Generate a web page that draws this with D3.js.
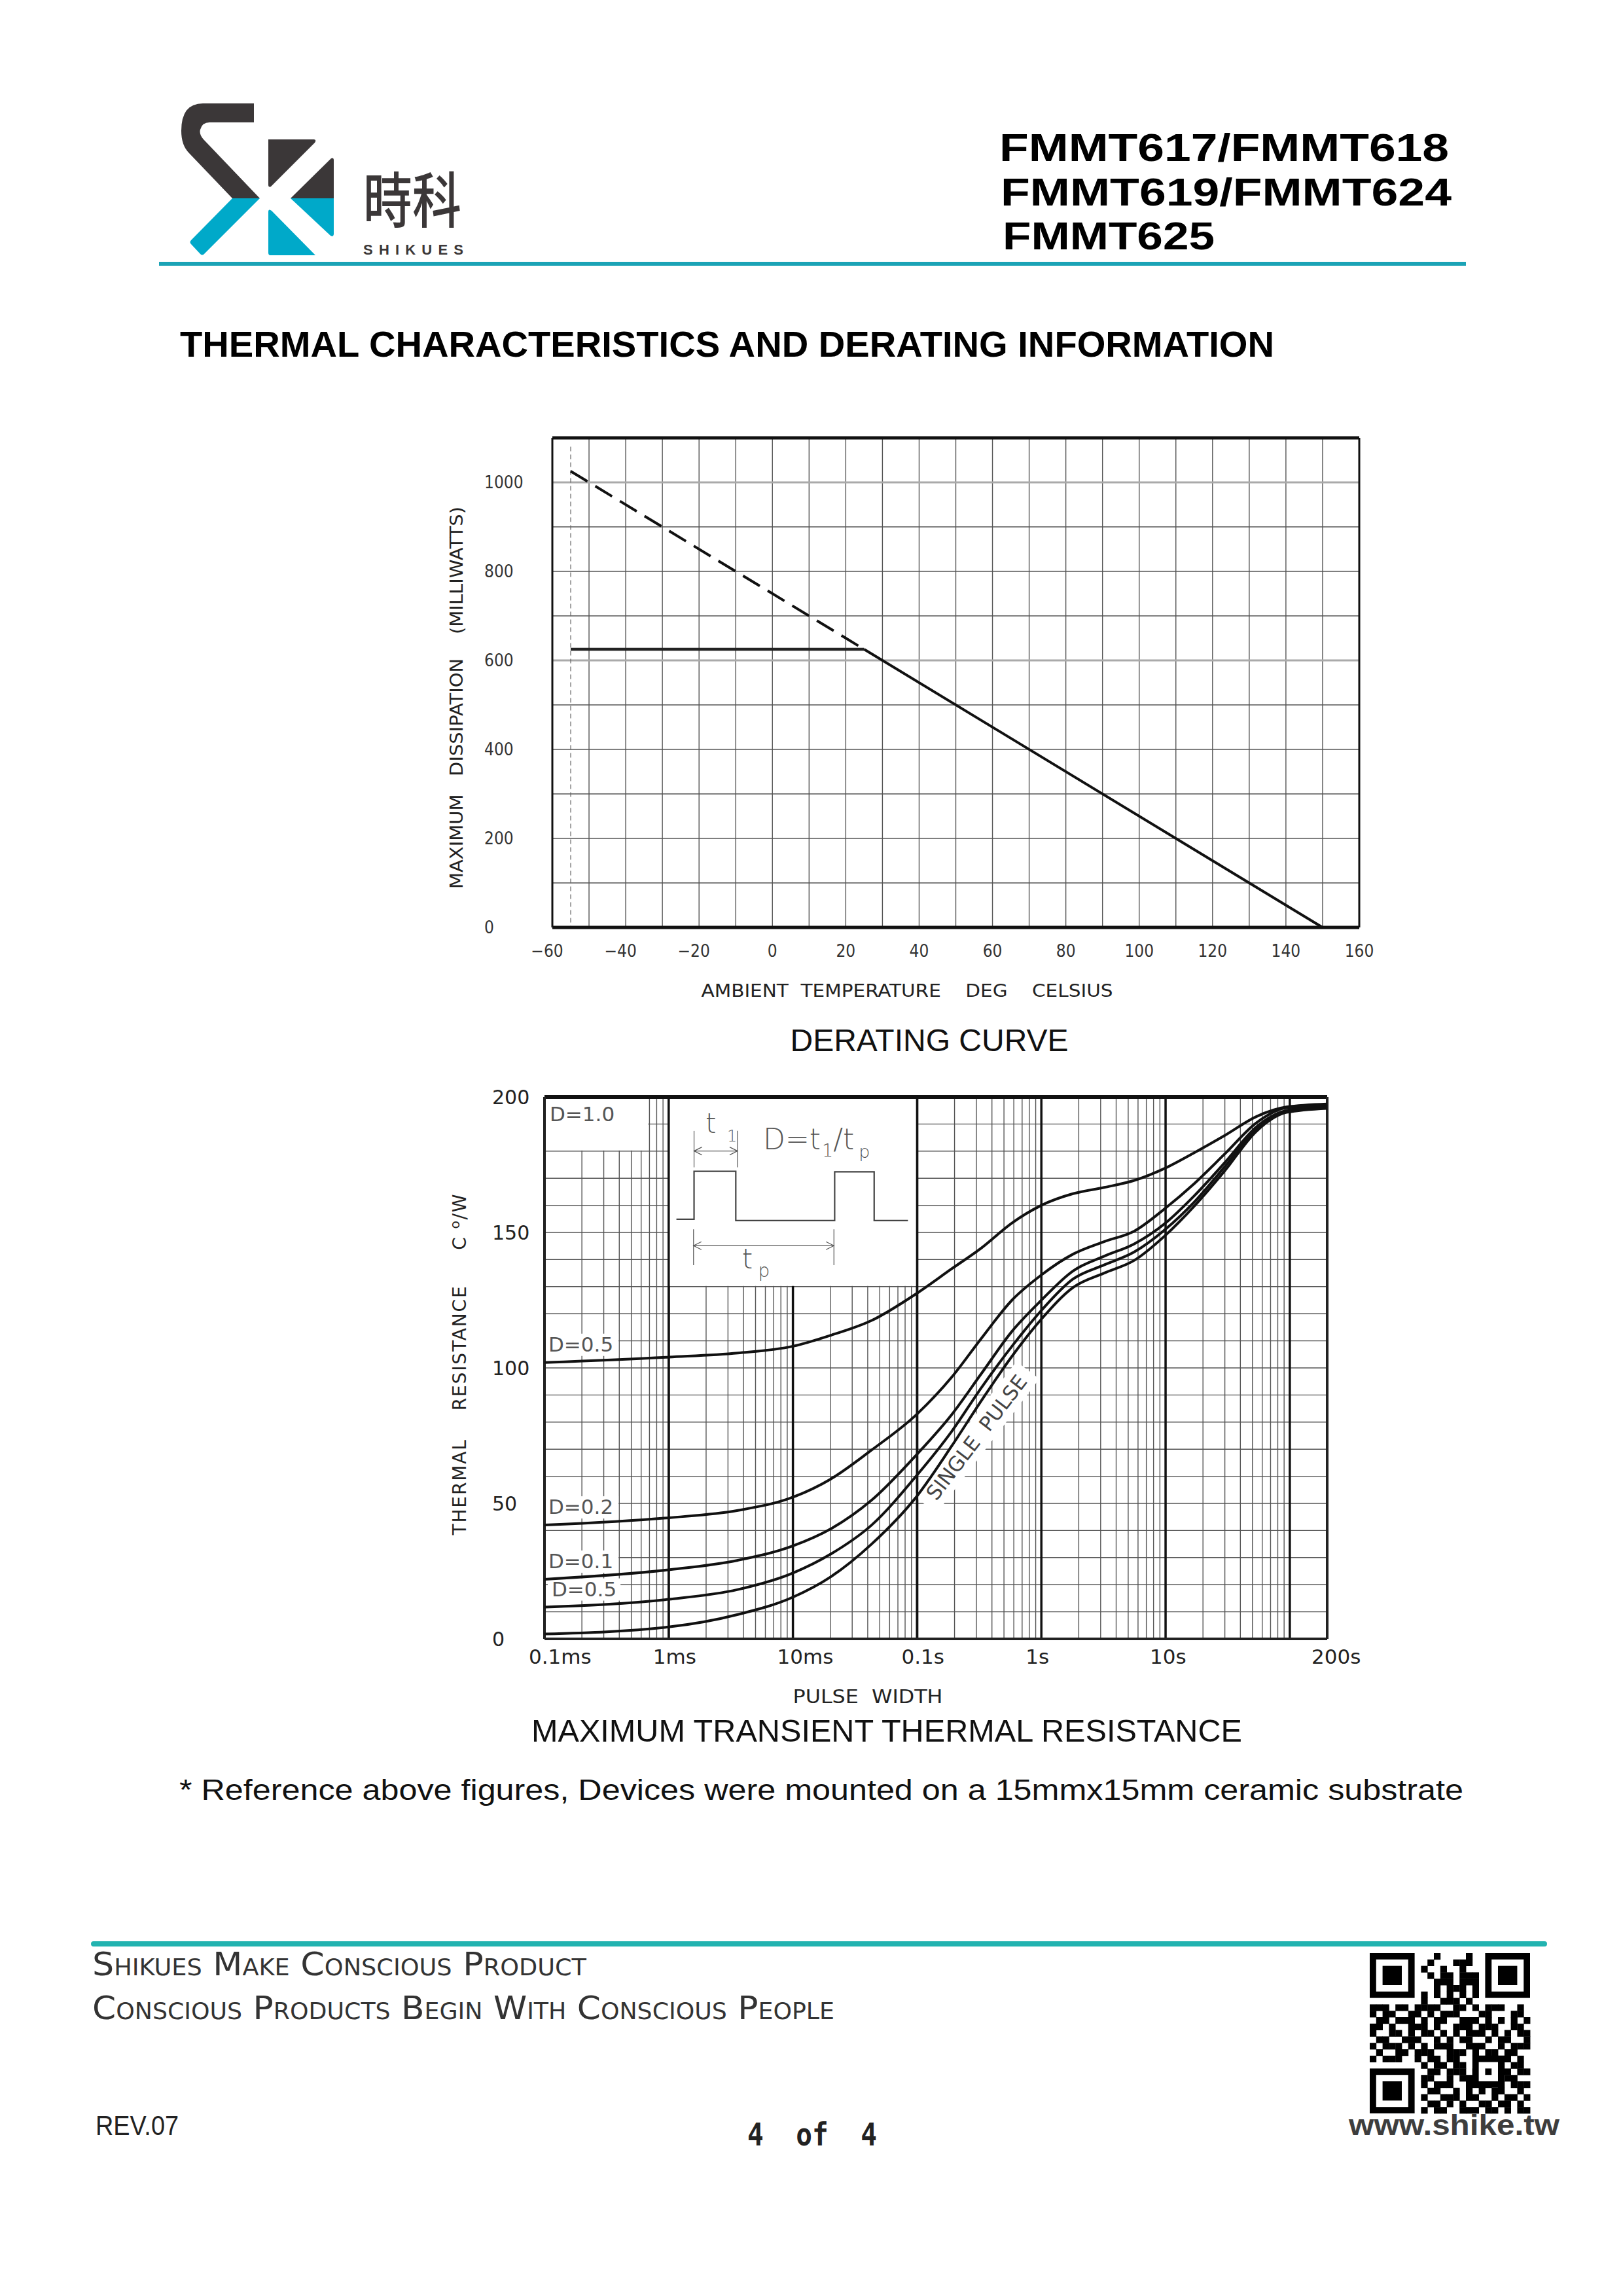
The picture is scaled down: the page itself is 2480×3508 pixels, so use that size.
<!DOCTYPE html>
<html>
<head>
<meta charset="utf-8">
<script src="https://cdn.jsdelivr.net/npm/d3@7"></script>
<style>
	body { margin: 0; background: #fff; }
	svg { display: block; }
	text { white-space: pre; }
</style>
</head>
<body>
<svg id="page"></svg>
<script>
// ---- Derating curve data ----
const deratingTicksX = [-60, -40, -20, 0, 20, 40, 60, 80, 100, 120, 140, 160];
const deratingTicksY = [0, 200, 400, 600, 800, 1000];
const deratingGridX = d3.range(-50, 160, 10);
const deratingGridY = d3.range(100, 1100, 100);
const deratingLightLines = [600, 1000];
const deratingMinTemp = -55;
const deratingFlat = [{ t: -55, p: 625 }, { t: 25, p: 625 }];
const deratingDashed = [{ t: -55, p: 1025 }, { t: 25, p: 625 }];
const deratingSolid = [{ t: 25, p: 625 }, { t: 150, p: 0 }];

// ---- Transient thermal resistance data ----
const pulseTimes = [1e-4, 1e-3, 3.6e-3, 1e-2, 0.02, 0.043, 0.1, 0.19, 0.33, 0.58, 1, 1.8, 3.2, 5.6, 10, 17, 30, 54, 94, 200];
const pulseD05 = [102, 104, 105.5, 108, 112, 117.5, 127.6, 136.6, 144.3, 153.5, 160, 164.3, 166.6, 169.2, 173.8, 179.4, 185.8, 192.8, 196.3, 197.4];
const pulseD02 = [42, 44.7, 47.4, 52.3, 58.9, 69.7, 83, 96.6, 111, 125, 134.3, 142, 146.6, 150.5, 159, 168, 179, 190.5, 196, 197];
const pulseD01 = [22, 25.5, 29, 34.3, 40.5, 51.2, 68.2, 82.8, 98, 113.5, 125, 135.8, 141.2, 145.8, 153.5, 163.5, 175.8, 189, 195, 196.6];
const pulseD005 = [11.7, 14.6, 18.2, 24.3, 31.2, 42, 60.5, 76.6, 92.8, 108, 121.2, 132.8, 138, 142.8, 151.2, 161.2, 174.3, 188.2, 194.8, 196.3];
const pulseSingle = [1.8, 4.4, 9, 15.4, 22.8, 35, 52.8, 71.2, 88, 104.3, 118, 129.7, 135, 139.7, 149, 159.7, 172.8, 187.4, 194.3, 195.8];
const pulseSeries = [
	{ label: 'D=0.5', values: pulseD05 },
	{ label: 'D=0.2', values: pulseD02 },
	{ label: 'D=0.1', values: pulseD01 },
	{ label: 'D=0.5', values: pulseD005 },
	{ label: null, values: pulseSingle }
];
const pulseTicksY = [0, 50, 100, 150, 200];
const pulseTicksX = [
	{ t: 1e-4, label: '0.1ms' }, { t: 1e-3, label: '1ms' }, { t: 1e-2, label: '10ms' },
	{ t: 0.1, label: '0.1s' }, { t: 1, label: '1s' }, { t: 10, label: '10s' }, { t: 200, label: '200s' }
];
const pulseDecades = [1e-3, 1e-2, 0.1, 1, 10, 100];
const pulseGridY = d3.range(10, 200, 10);

// inset pulse sketch, in fractions of the inset box
const insetWave = [[0.031, 0.645], [0.102, 0.645], [0.102, 0.392], [0.27, 0.392], [0.27, 0.652], [0.668, 0.652],
	[0.668, 0.395], [0.827, 0.395], [0.827, 0.652], [0.963, 0.652]];

// QR modules (finders and alignment are drawn on top)
const qrRows = [
	'0000000000100001000000000',
	'0000000001000111000000000',
	'0000000010010010000000000',
	'0000000001011011100000000',
	'0000000000111011100000000',
	'0000000000101110100000000',
	'0000000010101010100000000',
	'0000000010011101000000000',
	'1110110111100110101110010',
	'1011001101011100011000110',
	'0110111010110011101010101',
	'1101001110100111011100110',
	'1001101011010101110101011',
	'0110011100101011001011001',
	'1011101010111001110010111',
	'0100110111001110101101100',
	'1011100101101100011111010',
	'0000000010110110001010110',
	'0000000001101110110011011',
	'0000000011001011001101100',
	'0000000010111001111010111',
	'0000000001100101010110010',
	'0000000010011101100101101',
	'0000000001101010011011010',
	'0000000010110011101101011'
];

const W = 2480, H = 3508;
const dark = '#3b3738', cyan = '#00a9c9', ink = '#111';
const cad = '"DejaVu Sans", sans-serif';
const cadNarrow = '"DejaVu Sans Condensed", "DejaVu Sans", sans-serif';

const svg = d3.select('#page')
	.attr('width', W).attr('height', H)
	.attr('viewBox', '0 0 ' + W + ' ' + H);
svg.append('rect').attr('width', W).attr('height', H).attr('fill', '#fff');

// ---------- Header ----------
const header = svg.append('g');
header.append('path')
	.attr('d', 'M388,158 L310,158 Q277,158 277,200 Q277,222 289,234 L355,303 L397,303 L311,213 Q304,205 306,198 Q309,187 320,187 L388,187 Z')
	.attr('fill', dark);
header.append('path').attr('d', 'M355,303 L397,303 L312,388 Q309,391 306,388 L292,373 Q289,370 292,367 Z').attr('fill', cyan);
header.append('path').attr('d', 'M410,213 L480,213 Q484,214 481,218 L414,285 Q410,287 410,282 Z').attr('fill', dark);
header.append('path').attr('d', 'M510,245 L510,303 L444,303 L506,242 Q510,240 510,245 Z').attr('fill', dark);
header.append('path').attr('d', 'M444,303 L510,303 L510,358 Q509,363 505,360 Z').attr('fill', cyan);
header.append('path').attr('d', 'M410,324 Q410,318 415,322 L482,390 L413,390 Q410,390 410,386 Z').attr('fill', cyan);

header.append('text').attr('x', 555).attr('y', 340)
	.attr('font-family', '"Noto Sans CJK TC", "Noto Sans CJK SC", sans-serif')
	.attr('font-size', 92).attr('font-weight', 500).attr('fill', dark)
	.attr('textLength', 150).attr('lengthAdjust', 'spacingAndGlyphs')
	.text('時科');
header.append('text').attr('x', 555).attr('y', 389)
	.attr('font-family', '"Liberation Sans", sans-serif').attr('font-weight', 700)
	.attr('font-size', 22).attr('fill', dark)
	.attr('textLength', 153).attr('lengthAdjust', 'spacing')
	.text('SHIKUES');

const partLines = [
	{ text: 'FMMT617/FMMT618', x: 1527, y: 246, w: 687 },
	{ text: 'FMMT619/FMMT624', x: 1529, y: 314, w: 689 },
	{ text: 'FMMT625', x: 1532, y: 381, w: 324 }
];
header.selectAll('text.part').data(partLines).join('text')
	.attr('class', 'part')
	.attr('x', d => d.x).attr('y', d => d.y)
	.attr('font-family', '"Liberation Sans", Arial, sans-serif').attr('font-weight', 700)
	.attr('font-size', 60).attr('fill', '#000')
	.attr('textLength', d => d.w).attr('lengthAdjust', 'spacingAndGlyphs')
	.text(d => d.text);

header.append('rect').attr('x', 243).attr('y', 400).attr('width', 1997).attr('height', 6).attr('fill', '#1ba3b6');

svg.append('text').attr('x', 275).attr('y', 545)
	.attr('font-family', '"Liberation Sans", Arial, sans-serif').attr('font-weight', 700)
	.attr('font-size', 55).attr('fill', '#000')
	.attr('textLength', 1672).attr('lengthAdjust', 'spacingAndGlyphs')
	.text('THERMAL CHARACTERISTICS AND DERATING INFORMATION');

// ---------- Derating curve ----------
const dx = d3.scaleLinear().domain([-60, 160]).range([844, 2077]);
const dy = d3.scaleLinear().domain([0, 1100]).range([1417, 669]);
const derating = svg.append('g');

derating.selectAll('line.gx').data(deratingGridX).join('line')
	.attr('x1', d => dx(d)).attr('x2', d => dx(d))
	.attr('y1', dy(1100)).attr('y2', dy(0))
	.attr('stroke', '#555').attr('stroke-width', 1.4);
derating.selectAll('line.gy').data(deratingGridY).join('line')
	.attr('x1', dx(-60)).attr('x2', dx(160))
	.attr('y1', d => dy(d)).attr('y2', d => dy(d))
	.attr('stroke', d => deratingLightLines.includes(d) ? '#aaa' : '#555')
	.attr('stroke-width', d => deratingLightLines.includes(d) ? 3 : 1.4);
derating.append('line')
	.attr('x1', dx(deratingMinTemp)).attr('x2', dx(deratingMinTemp))
	.attr('y1', dy(1080)).attr('y2', dy(0))
	.attr('stroke', '#666').attr('stroke-width', 1.2).attr('stroke-dasharray', '7,5');

// frame
derating.append('line').attr('x1', dx(-60)).attr('x2', dx(160)).attr('y1', dy(1100)).attr('y2', dy(1100)).attr('stroke', ink).attr('stroke-width', 5);
derating.append('line').attr('x1', dx(-60)).attr('x2', dx(160)).attr('y1', dy(0)).attr('y2', dy(0)).attr('stroke', ink).attr('stroke-width', 5);
derating.append('line').attr('x1', dx(-60)).attr('x2', dx(-60)).attr('y1', dy(1100)).attr('y2', dy(0)).attr('stroke', ink).attr('stroke-width', 3);
derating.append('line').attr('x1', dx(160)).attr('x2', dx(160)).attr('y1', dy(1100)).attr('y2', dy(0)).attr('stroke', ink).attr('stroke-width', 3);

const dLine = d3.line().x(d => dx(d.t)).y(d => dy(d.p));
derating.append('path').attr('d', dLine(deratingFlat)).attr('fill', 'none').attr('stroke', '#222').attr('stroke-width', 4.5);
derating.append('path').attr('d', dLine(deratingDashed)).attr('fill', 'none').attr('stroke', ink).attr('stroke-width', 4).attr('stroke-dasharray', '30,14');
derating.append('path').attr('d', dLine(deratingSolid)).attr('fill', 'none').attr('stroke', ink).attr('stroke-width', 4);

derating.selectAll('text.ty').data(deratingTicksY).join('text')
	.attr('x', 740).attr('y', d => dy(d)).attr('dy', '0.36em')
	.attr('font-family', cadNarrow).attr('font-size', 26).attr('fill', '#333')
	.text(d => d);
derating.selectAll('text.tx').data(deratingTicksX).join('text')
	.attr('x', d => dx(d) - (d < 0 ? 8 : 0)).attr('y', 1462).attr('text-anchor', 'middle')
	.attr('font-family', cadNarrow).attr('font-size', 26).attr('fill', '#333')
	.text(d => d < 0 ? '\u2212' + Math.abs(d) : d);
derating.append('text').attr('x', 1386).attr('y', 1523).attr('text-anchor', 'middle')
	.attr('font-family', cadNarrow).attr('font-size', 27).attr('fill', '#222')
	.attr('textLength', 629).attr('lengthAdjust', 'spacingAndGlyphs')
	.text('AMBIENT  TEMPERATURE    DEG    CELSIUS');
derating.append('text').attr('transform', 'translate(707,1066) rotate(-90)').attr('text-anchor', 'middle')
	.attr('font-family', cad).attr('font-size', 26).attr('fill', '#222')
	.attr('textLength', 584).attr('lengthAdjust', 'spacingAndGlyphs')
	.text('MAXIMUM   DISSIPATION    (MILLIWATTS)');

svg.append('text').attr('x', 1420).attr('y', 1606).attr('text-anchor', 'middle')
	.attr('font-family', '"Liberation Sans", Arial, sans-serif').attr('font-size', 48).attr('fill', '#111')
	.text('DERATING CURVE');

// ---------- Maximum transient thermal resistance ----------
const tx = d3.scaleLog().domain([1e-4, 200]).range([832, 2028]);
const ty = d3.scaleLinear().domain([0, 200]).range([2504, 1676]);
const transient = svg.append('g');
const gridG = transient.append('g');
const maskG = transient.append('g');
const curveG = transient.append('g');
const labelG = transient.append('g');

const minorTimes = [];
for (const decade of [1e-4, 1e-3, 1e-2, 0.1, 1, 10]) {
	for (let k = 2; k <= 9; k++) minorTimes.push(k * decade);
}
gridG.selectAll('line.mx').data(minorTimes).join('line')
	.attr('x1', d => tx(d)).attr('x2', d => tx(d))
	.attr('y1', ty(200)).attr('y2', ty(0))
	.attr('stroke', '#555').attr('stroke-width', 1.4);
gridG.selectAll('line.my').data(pulseGridY).join('line')
	.attr('x1', tx(1e-4)).attr('x2', tx(200))
	.attr('y1', d => ty(d)).attr('y2', d => ty(d))
	.attr('stroke', '#555').attr('stroke-width', 1.4);

// white boxes: D=1.0 corner and the pulse inset
maskG.append('rect')
	.attr('x', tx(1e-4) + 2).attr('y', ty(200) + 2)
	.attr('width', tx(7e-4) - tx(1e-4) - 4).attr('height', ty(180) - ty(200) - 3)
	.attr('fill', '#fff');
const inset = { x0: tx(1e-3), x1: tx(0.1), y0: ty(200), y1: ty(130) };
maskG.append('rect')
	.attr('x', inset.x0).attr('y', inset.y0 + 2)
	.attr('width', inset.x1 - inset.x0).attr('height', inset.y1 - inset.y0 - 3)
	.attr('fill', '#fff');

gridG.selectAll('line.dx').data(pulseDecades).join('line')
	.attr('x1', d => tx(d)).attr('x2', d => tx(d))
	.attr('y1', ty(200)).attr('y2', ty(0))
	.attr('stroke', ink).attr('stroke-width', 3.5);
// decade lines that frame the inset stay on top of its white box
curveG.append('line').attr('x1', tx(1e-3)).attr('x2', tx(1e-3)).attr('y1', ty(200)).attr('y2', ty(0)).attr('stroke', ink).attr('stroke-width', 3.5);
curveG.append('line').attr('x1', tx(0.1)).attr('x2', tx(0.1)).attr('y1', ty(200)).attr('y2', ty(0)).attr('stroke', ink).attr('stroke-width', 3.5);

// frame
curveG.append('line').attr('x1', tx(1e-4)).attr('x2', tx(200)).attr('y1', ty(200)).attr('y2', ty(200)).attr('stroke', ink).attr('stroke-width', 6);
curveG.append('line').attr('x1', tx(1e-4)).attr('x2', tx(200)).attr('y1', ty(0)).attr('y2', ty(0)).attr('stroke', '#222').attr('stroke-width', 4);
curveG.append('line').attr('x1', tx(1e-4)).attr('x2', tx(1e-4)).attr('y1', ty(200)).attr('y2', ty(0)).attr('stroke', '#222').attr('stroke-width', 4);
curveG.append('line').attr('x1', tx(200)).attr('x2', tx(200)).attr('y1', ty(200)).attr('y2', ty(0)).attr('stroke', '#222').attr('stroke-width', 4);

const pLine = d3.line().x((d, i) => tx(pulseTimes[i])).y(d => ty(d)).curve(d3.curveMonotoneX);
curveG.selectAll('path.curve').data(pulseSeries).join('path')
	.attr('d', d => pLine(d.values))
	.attr('fill', 'none').attr('stroke', ink).attr('stroke-width', 4);

// curve labels with white backing
const labelFont = { family: cad, size: 31, fill: '#555' };
const addLabel = function(txt, x, y) {
	const t = labelG.append('text').attr('x', x).attr('y', y)
		.attr('font-family', labelFont.family).attr('font-size', labelFont.size).attr('fill', labelFont.fill)
		.text(txt);
	const b = t.node().getBBox();
	maskG.append('rect').attr('x', Math.max(b.x - 6, tx(1e-4) + 2)).attr('y', b.y + 2)
		.attr('width', b.width + 12).attr('height', b.height - 2).attr('fill', '#fff');
};
addLabel('D=1.0', tx(1e-4) + 8, ty(200) + 37);
pulseSeries.filter(d => d.label).forEach((d, i) => addLabel(d.label, tx(1e-4) + (i === 3 ? 11 : 6), ty(d.values[0]) - 17));

// single pulse label along the curves
const spGroupMask = maskG.append('g').attr('transform', 'translate(1492,2196) rotate(-52.6)');
const spGroup = labelG.append('g').attr('transform', 'translate(1492,2196) rotate(-52.6)');
const spText = spGroup.append('text').attr('text-anchor', 'middle').attr('dy', '0.36em')
	.attr('font-family', cad).attr('font-size', 31).attr('fill', '#444')
	.text('SINGLE  PULSE');
const spBox = spText.node().getBBox();
spGroupMask.append('rect').attr('x', spBox.x - 14).attr('y', spBox.y - 4)
	.attr('width', spBox.width + 28).attr('height', spBox.height + 8).attr('fill', '#fff');

// inset drawing
const ix = f => inset.x0 + f * (inset.x1 - inset.x0);
const iy = f => inset.y0 + f * (inset.y1 - inset.y0);
const gray = '#555';
labelG.append('path')
	.attr('d', d3.line().x(d => ix(d[0])).y(d => iy(d[1]))(insetWave))
	.attr('fill', 'none').attr('stroke', '#444').attr('stroke-width', 2.2);
const dimension = function(fa, fb, fTop, fBot, fArrow) {
	for (const f of [fa, fb]) {
		labelG.append('line').attr('x1', ix(f)).attr('x2', ix(f)).attr('y1', iy(fTop)).attr('y2', iy(fBot))
			.attr('stroke', gray).attr('stroke-width', 1.2);
	}
	const y = iy(fArrow), xa = ix(fa), xb = ix(fb);
	labelG.append('line').attr('x1', xa).attr('x2', xb).attr('y1', y).attr('y2', y).attr('stroke', gray).attr('stroke-width', 1.2);
	labelG.append('path').attr('d', 'M' + (xa + 12) + ',' + (y - 6) + ' L' + xa + ',' + y + ' L' + (xa + 12) + ',' + (y + 6))
		.attr('fill', 'none').attr('stroke', gray).attr('stroke-width', 1.2);
	labelG.append('path').attr('d', 'M' + (xb - 12) + ',' + (y - 6) + ' L' + xb + ',' + y + ' L' + (xb - 12) + ',' + (y + 6))
		.attr('fill', 'none').attr('stroke', gray).attr('stroke-width', 1.2);
};
dimension(0.102, 0.277, 0.179, 0.371, 0.285);
dimension(0.1, 0.665, 0.698, 0.887, 0.784);

const insetText = function(x, y, size) {
	return labelG.append('text').attr('x', x).attr('y', y)
		.attr('font-family', cad).attr('font-weight', 300).attr('font-size', size).attr('fill', '#555');
};
insetText(ix(0.148), iy(0.19), 42).text('t');
insetText(ix(0.235), iy(0.235), 24).text('1');
const dEq = insetText(ix(0.38), iy(0.275), 44);
dEq.append('tspan').text('D=t');
dEq.append('tspan').attr('font-size', 27).attr('dy', 11).attr('dx', 2).text('1');
dEq.append('tspan').attr('dy', -11).text('/t');
dEq.append('tspan').attr('font-size', 27).attr('dy', 13).attr('dx', 7).text('p');
insetText(ix(0.295), iy(0.905), 42).text('t');
insetText(ix(0.36), iy(0.95), 28).text('p');

// tick labels and titles
labelG.selectAll('text.ty').data(pulseTicksY).join('text')
	.attr('x', 752).attr('y', d => ty(d)).attr('dy', '0.36em')
	.attr('font-family', cad).attr('font-size', 30).attr('fill', '#222')
	.text(d => d);
labelG.selectAll('text.tx').data(pulseTicksX).join('text')
	.attr('x', d => tx(d.t) - 24).attr('y', 2542)
	.attr('font-family', cad).attr('font-size', 31).attr('fill', '#222')
	.text(d => d.label);
labelG.append('text').attr('x', 1326).attr('y', 2602).attr('text-anchor', 'middle')
	.attr('font-family', cad).attr('font-size', 28).attr('fill', '#222')
	.attr('textLength', 229).attr('lengthAdjust', 'spacingAndGlyphs')
	.text('PULSE  WIDTH');
const yTitle = labelG.append('text').attr('transform', 'translate(712,2085) rotate(-90)').attr('text-anchor', 'middle')
	.attr('font-family', cad).attr('font-size', 28).attr('fill', '#222')
	.attr('textLength', 521).attr('lengthAdjust', 'spacing');
yTitle.append('tspan').text('THERMAL    RESISTANCE     C ');
yTitle.append('tspan').attr('font-size', 20).attr('dy', -10).text('o');
yTitle.append('tspan').attr('dy', 10).text('/W');

svg.append('text').attr('x', 1355).attr('y', 2661).attr('text-anchor', 'middle')
	.attr('font-family', '"Liberation Sans", Arial, sans-serif').attr('font-size', 48).attr('fill', '#111')
	.attr('textLength', 1086).attr('lengthAdjust', 'spacingAndGlyphs')
	.text('MAXIMUM TRANSIENT THERMAL RESISTANCE');
svg.append('text').attr('x', 274).attr('y', 2750)
	.attr('font-family', '"Liberation Sans", Arial, sans-serif').attr('font-size', 45).attr('fill', '#111')
	.attr('textLength', 1962).attr('lengthAdjust', 'spacingAndGlyphs')
	.text('* Reference above figures, Devices were mounted on a 15mmx15mm ceramic substrate');

// ---------- Footer ----------
const footer = svg.append('g');
footer.append('line').attr('x1', 143).attr('x2', 2360).attr('y1', 2970).attr('y2', 2970)
	.attr('stroke', '#22b3b0').attr('stroke-width', 8).attr('stroke-linecap', 'round');
const mottos = [
	{ text: 'Shikues Make Conscious Product', y: 3018, w: 755 },
	{ text: 'Conscious Products Begin With Conscious People', y: 3085, w: 1134 }
];
footer.selectAll('text.motto').data(mottos).join('text')
	.attr('x', 141).attr('y', d => d.y)
	.attr('font-family', '"Liberation Sans Narrow", "DejaVu Sans Condensed", sans-serif')
	.attr('font-size', 50).attr('font-variant', 'small-caps').attr('fill', '#333')
	.attr('textLength', d => d.w).attr('lengthAdjust', 'spacingAndGlyphs')
	.text(d => d.text);
footer.append('text').attr('x', 146).attr('y', 3262)
	.attr('font-family', '"Liberation Sans Narrow", sans-serif').attr('font-size', 42).attr('fill', '#222')
	.attr('textLength', 127).attr('lengthAdjust', 'spacingAndGlyphs')
	.text('REV.07');
footer.append('text').attr('x', 1142).attr('y', 3278)
	.attr('font-family', '"DejaVu Sans Mono", monospace').attr('font-weight', 700).attr('font-size', 48).attr('fill', '#222')
	.attr('textLength', 198).attr('lengthAdjust', 'spacingAndGlyphs')
	.text('4  of  4');
footer.append('text').attr('x', 2061).attr('y', 3262)
	.attr('font-family', '"Liberation Sans", Arial, sans-serif').attr('font-weight', 700).attr('font-size', 44).attr('fill', '#3d3d3d')
	.attr('textLength', 322).attr('lengthAdjust', 'spacingAndGlyphs')
	.text('www.shike.tw');

// QR code
const qr = { x: 2093, y: 2984, size: 245, n: 25 };
const qs = qr.size / qr.n;
const cells = [];
qrRows.forEach((row, r) => row.split('').forEach((c, col) => { if (c === '1') cells.push([r, col]); }));
const qrG = footer.append('g');
qrG.selectAll('rect.m').data(cells).join('rect')
	.attr('x', d => qr.x + d[1] * qs).attr('y', d => qr.y + d[0] * qs)
	.attr('width', qs + 0.4).attr('height', qs + 0.4).attr('fill', '#000');
const finder = function(r, c, size) {
	qrG.append('rect').attr('x', qr.x + c * qs).attr('y', qr.y + r * qs).attr('width', size * qs).attr('height', size * qs).attr('fill', '#000');
	qrG.append('rect').attr('x', qr.x + (c + 1) * qs).attr('y', qr.y + (r + 1) * qs).attr('width', (size - 2) * qs).attr('height', (size - 2) * qs).attr('fill', '#fff');
	qrG.append('rect').attr('x', qr.x + (c + 2) * qs).attr('y', qr.y + (r + 2) * qs).attr('width', (size - 4) * qs).attr('height', (size - 4) * qs).attr('fill', '#000');
};
finder(0, 0, 7);
finder(0, 18, 7);
finder(18, 0, 7);
finder(16, 16, 5);
</script>
</body>
</html>
